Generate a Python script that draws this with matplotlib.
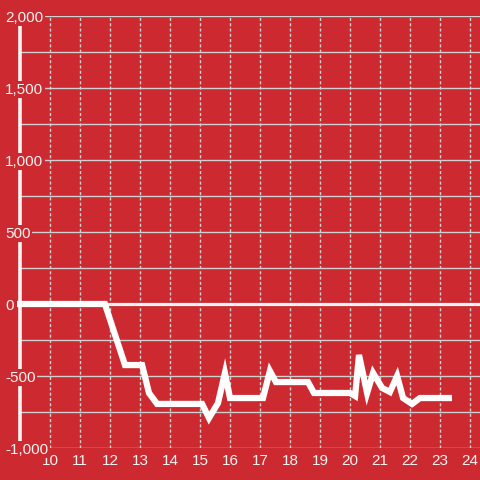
import matplotlib
matplotlib.use("Agg")
import matplotlib.pyplot as plt

hours = [9, 11.83, 12.5, 13.07, 13.3, 13.57, 15.07, 15.3, 15.6, 15.83, 16.0,
         17.1, 17.33, 17.53, 18.6, 18.8, 20.0, 20.17, 20.3, 20.57, 20.77,
         21.07, 21.33, 21.57, 21.77, 22.07, 22.33, 23.4]
values = [0, 0, -424, -424, -618, -694, -694, -792, -688, -479, -653,
          -653, -465, -542, -542, -618, -618, -639, -354, -618, -479,
          -583, -611, -500, -653, -694, -653, -653]
xticks = list(range(10, 25))
yticks = [-1000, -500, 0, 500, 1000, 1500, 2000]
ylabels = ["-1,000", "-500", "0", "500", "1,000", "1,500", "2,000"]
minor_y = [-750, -250, 250, 750, 1250, 1750]

BG = "#cc2a30"
GRID = "#d0d0d0"
TXT = "#f4f4f4"

plt.rcParams['font.family'] = ['Liberation Sans', 'DejaVu Sans']

fig = plt.figure(figsize=(4.8, 4.8), dpi=100, facecolor=BG)
ax = fig.add_axes([20/480, 32/480, 460/480, 432/480])
ax.set_facecolor(BG)
xmax = 9 + 460/30
ax.set_xlim(9, xmax)
ax.set_ylim(-1000, 2000)

for s in ax.spines.values():
    s.set_visible(False)

# horizontal solid gridlines
for v in yticks + minor_y:
    if v == -1000:
        ax.hlines(v, 10, xmax, color=GRID, lw=1.0, zorder=1)
    elif v != 0:
        ax.axhline(v, color=GRID, lw=1.0, zorder=1)
# vertical dashed gridlines
for t in xticks:
    ax.axvline(t, color=GRID, lw=1.0, ls=(0, (2.2, 1.6)), zorder=1)

ax.axhline(0, color="#f4f4f4", lw=2.3, zorder=1.2)
ax.axvline(9, color="#f4f4f4", lw=2.6, ymin=0, ymax=1 - 8/432, zorder=1.3,
           clip_on=False)

ax.plot([8.9] + hours, [0] + values, color="white", lw=4.5,
        solid_joinstyle="miter", solid_capstyle="butt", zorder=3,
        clip_on=False)

ax.set_xticks(xticks)
ax.set_xticklabels([str(t) for t in xticks])
ax.set_yticks(yticks)
ax.set_yticklabels(ylabels)
ax.tick_params(axis='both', length=0, colors=TXT, labelsize=11)
ax.tick_params(axis='x', pad=4.5)
ax.tick_params(axis='y', pad=15 * 0.72)
for lab in ax.get_yticklabels():
    lab.set_horizontalalignment('left')
    lab.set_bbox(dict(facecolor=BG, edgecolor='none', pad=1.0))
    lab.set_zorder(5)
ax.yaxis.set_zorder(5)

fig.savefig("out.png", dpi=100, facecolor=BG)
